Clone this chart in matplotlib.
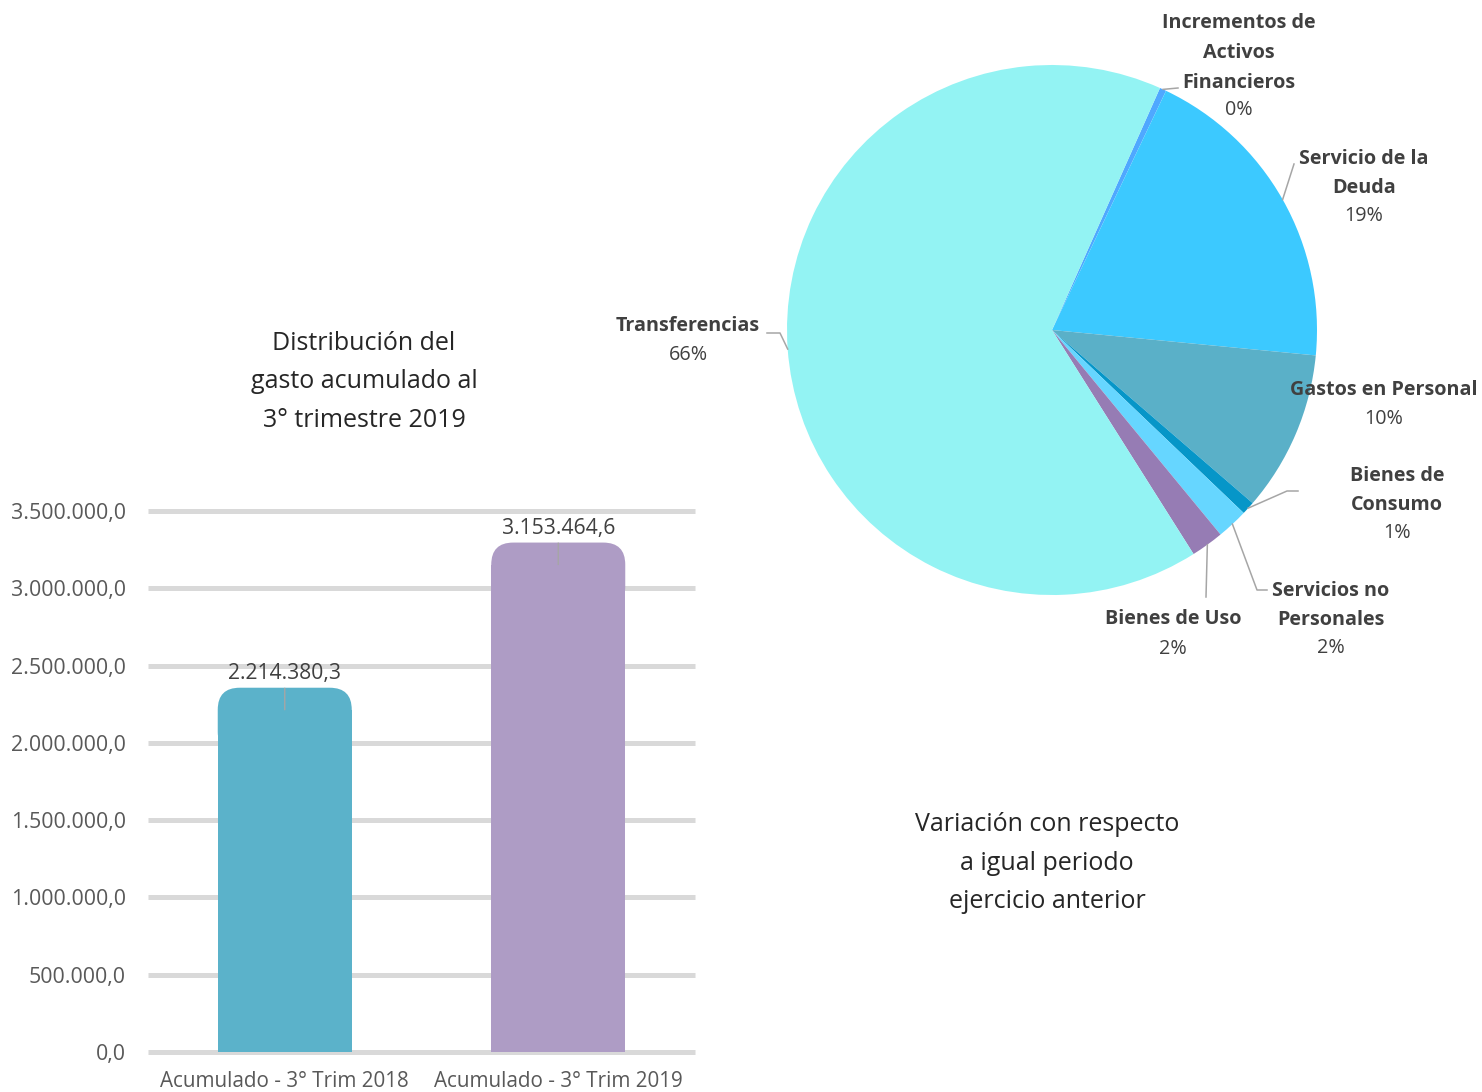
import numpy as np
import matplotlib
matplotlib.use("Agg")
import matplotlib.pyplot as plt
from matplotlib.patches import FancyBboxPatch
from matplotlib.ticker import FuncFormatter

plt.rcParams['font.family'] = ['Open Sans', 'DejaVu Sans']

# datos del grafico de barras
periodos = ['Acumulado - 3° Trim 2018', 'Acumulado - 3° Trim 2019']
gasto_acumulado = [2214380.3, 3153464.6]
colores_barras = ['#5BB2CA', '#AE9CC5']
ticks_y = [0, 500000, 1000000, 1500000, 2000000, 2500000, 3000000, 3500000]

# datos del grafico de torta (porcentaje del gasto)
conceptos = ['Incrementos de\nActivos\nFinancieros', 'Servicio de la\nDeuda',
             'Gastos en Personal', 'Bienes de\nConsumo', 'Servicios no\nPersonales',
             'Bienes de Uso', 'Transferencias']
porcentajes = [0.4, 19.45, 9.8, 0.8, 1.9, 2.0, 65.65]
colores_torta = ['#4FA8FF', '#3CC9FF', '#5AB0C8', '#0696C8', '#66D6FF',
                 '#967CB4', '#93F3F3']

W, H = 1482, 1092
fig = plt.figure(figsize=(W / 100, H / 100), dpi=100)
texto = '#404040'


def fmt_es(v):
    # formato 1.234.567,8
    return f"{v:,.1f}".replace(',', 'X').replace('.', ',').replace('X', '.')


# ---------------- barras ----------------
ax = fig.add_axes([148 / W, (H - 1052) / H, 547 / W, (1052 - 511) / H])
x = np.arange(len(periodos))
barras = ax.bar(x, gasto_acumulado, width=0.49, color=colores_barras, zorder=2)
ax.set_xlim(-0.5, 1.5)
ax.set_ylim(0, 3500000)
ax.set_yticks(ticks_y)
ax.yaxis.set_major_formatter(FuncFormatter(lambda v, p: fmt_es(v)))
ax.set_xticks(x)
ax.set_xticklabels(periodos)
ax.tick_params(axis='y', length=0, pad=16, labelsize=15.4, labelcolor='#595959')
ax.tick_params(axis='x', length=0, pad=14, labelsize=14.9, labelcolor='#595959')
for s in ax.spines.values():
    s.set_visible(False)
ax.set_axisbelow(True)
ax.grid(axis='y', color='#D9D9D9', linewidth=3.6, solid_capstyle='butt')
for gl in ax.get_ygridlines():
    gl.set_clip_on(False)

# tapa redondeada de cada barra
sx = 547 / 2.0
sy = (1052 - 511) / 3500000
radio_px = 22
for b in barras:
    h = b.get_height()
    cap = FancyBboxPatch((b.get_x(), h - 2 * radio_px / sy), b.get_width(), 3 * radio_px / sy,
                         boxstyle=f"round,pad=0,rounding_size={radio_px / sx}",
                         mutation_aspect=sx / sy, facecolor=b.get_facecolor(),
                         edgecolor='none', zorder=2)
    ax.add_patch(cap)
    ax.annotate(fmt_es(h), xy=(b.get_x() + b.get_width() / 2, h), xytext=(0, 26),
                textcoords='offset points', ha='center', va='center',
                fontsize=15.2, color=texto, zorder=4,
                arrowprops=dict(arrowstyle='-', color='#A6A6A6', lw=1,
                                shrinkA=1, shrinkB=0))

fig.text(364 / W, 1 - 382 / H, 'Distribución del\ngasto acumulado al\n3° trimestre 2019',
         ha='center', va='center', fontsize=18, color='#262626', linespacing=1.69)
fig.text(1047 / W, 1 - 863 / H, 'Variación con respecto\na igual periodo\nejercicio anterior',
         ha='center', va='center', fontsize=18, color='#262626', linespacing=1.69)

# ---------------- torta ----------------
cx, cy, r = 1052, 330, 265
axp = fig.add_axes([(cx - r) / W, (H - cy - r) / H, 2 * r / W, 2 * r / H])
wedges, _ = axp.pie(porcentajes, colors=colores_torta, startangle=65.95,
                    counterclock=False, radius=1,
                    wedgeprops=dict(linewidth=0))
axp.set_xlim(-1, 1)
axp.set_ylim(-1, 1)
axp.axis('off')


def P(px, py):
    return (px - cx) / r, (cy - py) / r


# posicion de etiquetas (px) y quiebre de linea guia
etiquetas = {
    0: dict(pos=(1239, 53), pct=(1239, 110), guia=[(1178, 88)]),
    1: dict(pos=(1364, 173.5), pct=(1364, 216), guia=[(1294, 164)]),
    2: dict(pos=(1384, 390), pct=(1384, 419), guia=None),
    3: dict(pos=(1397, 490.5), pct=(1397, 533), guia=[(1287, 491), (1298, 491)]),
    4: dict(pos=(1331, 605.5), pct=(1331, 648), guia=[(1257, 590), (1267, 590)]),
    5: dict(pos=(1173, 619), pct=(1173, 649), guia=[(1206, 597)]),
    6: dict(pos=(688, 326), pct=(688, 355), guia=[(780, 333), (767, 333)]),
}
for i, w in enumerate(wedges):
    e = etiquetas[i]
    ang = np.deg2rad((w.theta1 + w.theta2) / 2)
    if e['guia']:
        xs = [np.cos(ang)] + [P(*g)[0] for g in e['guia']]
        ys = [np.sin(ang)] + [P(*g)[1] for g in e['guia']]
        axp.plot(xs, ys, color='#A6A6A6', lw=1.1, clip_on=False, zorder=1)
    axp.text(*P(*e['pos']), conceptos[i], ha='center', va='center', fontsize=14.2,
             fontweight='bold', color=texto, linespacing=1.66)
    axp.text(*P(*e['pct']), f"{porcentajes[i]:.0f}%", ha='center', va='center',
             fontsize=14.2, color=texto)

fig.savefig('out.png', dpi=100)
